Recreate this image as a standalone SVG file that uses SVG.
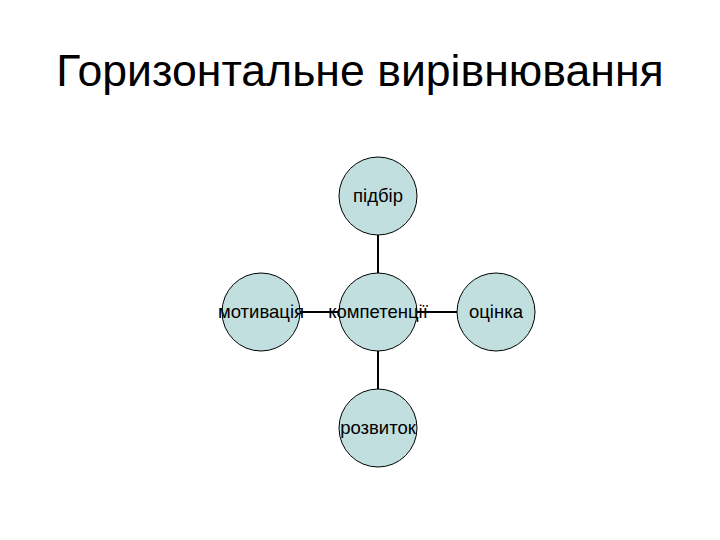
<svg xmlns="http://www.w3.org/2000/svg" width="720" height="540" viewBox="0 0 720 540">
<style>
.node circle{fill:#C2DFDF;stroke:#000;stroke-width:1}
.node text{font-family:"Liberation Sans",Arial,sans-serif;font-size:18.5px;fill:#000;text-anchor:middle}
.title{font-family:"Liberation Sans",Arial,sans-serif;font-size:44.6px;fill:#000;text-anchor:middle}
#connectors line{stroke:#000;stroke-width:2}
</style>
<rect width="720" height="540" fill="#fff"/>
<text class="title" x="360" y="86">Горизонтальне вирівнювання</text>
<g id="connectors">
<line x1="378" y1="235" x2="378" y2="273"/>
<line x1="378" y1="351" x2="378" y2="389"/>
<line x1="300" y1="312" x2="339" y2="312"/>
<line x1="417" y1="312" x2="457" y2="312"/>
</g>
<g id="node-pidbir" class="node"><circle cx="378" cy="196" r="39"/><text x="378" y="202">підбір</text></g>
<g id="node-kompetentsii" class="node"><circle cx="378" cy="312" r="39"/><text x="378" y="318">компетенції</text></g>
<g id="node-motyvatsiia" class="node"><circle cx="261" cy="312" r="39"/><text x="261" y="318">мотивація</text></g>
<g id="node-otsinka" class="node"><circle cx="496" cy="312" r="39"/><text x="496" y="318">оцінка</text></g>
<g id="node-rozvytok" class="node"><circle cx="378" cy="428" r="39"/><text x="378" y="434">розвиток</text></g>
</svg>
